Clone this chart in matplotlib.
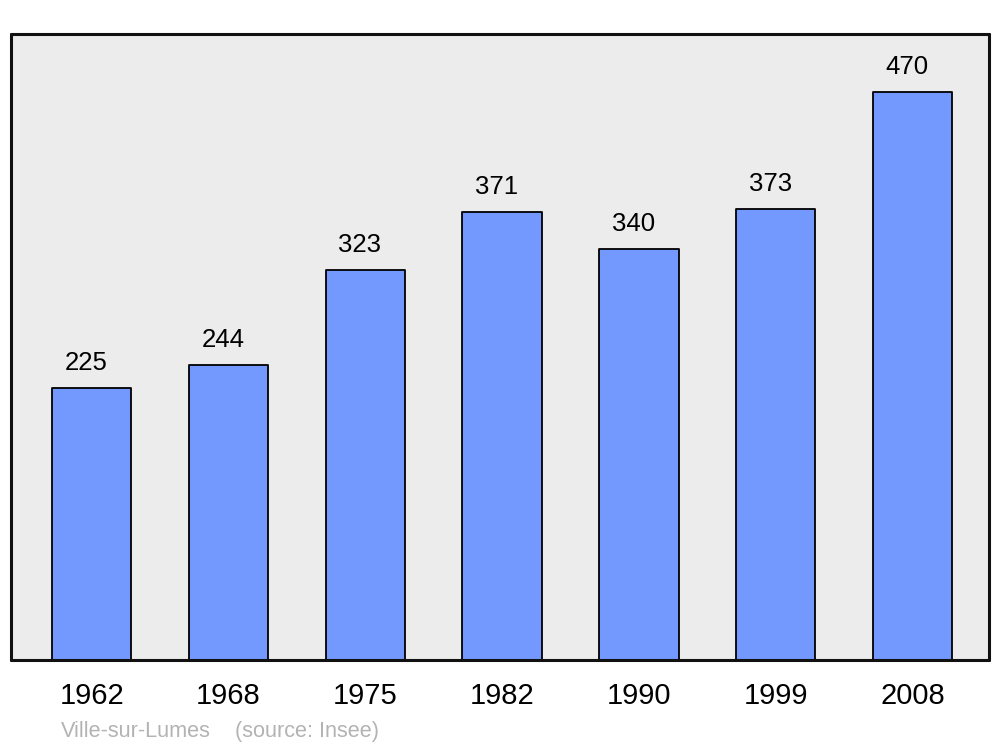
#!/usr/bin/env python3
"""Population bar chart for Ville-sur-Lumes (Insee census years)."""

import matplotlib

matplotlib.use("Agg")
import matplotlib.pyplot as plt

YEARS = ["1962", "1968", "1975", "1982", "1990", "1999", "2008"]
POPULATION = [225, 244, 323, 371, 340, 373, 470]
TOWN = "Ville-sur-Lumes"
SOURCE = "(source: Insee)"

plt.rcParams["font.family"] = ["Liberation Sans", "DejaVu Sans"]


def main() -> None:
    fig = plt.figure(figsize=(10, 7.47), dpi=100)
    ax = fig.add_axes([0.011, 0.1165, 0.978, 0.838])
    ax.set_facecolor("#ececec")

    x = list(range(len(YEARS)))
    bars = ax.bar(x, POPULATION, width=0.58, color="#7399ff", edgecolor="black",
                  linewidth=1.3, joinstyle="round", zorder=2)
    for bar, value in zip(bars, POPULATION):
        ax.annotate(str(value), (bar.get_x() + bar.get_width() / 2, value),
                    xytext=(-4, 13), textcoords="offset points", ha="center",
                    va="baseline", fontsize=18.5)

    ax.set_xlim(-0.59, 6.56)
    ax.set_ylim(0, 518)
    ax.set_xticks(x)
    ax.set_xticklabels(YEARS, fontsize=21)
    ax.tick_params(axis="x", length=0, pad=16)
    ax.set_yticks([])
    for spine in ax.spines.values():
        spine.set_linewidth(2.2)
        spine.set_color("#111111")
        spine.set_joinstyle("round")
        spine.set_capstyle("round")

    fig.text(0.061, 0.013, TOWN, fontsize=15.6, color="#b3b3b3", va="baseline")
    fig.text(0.235, 0.013, SOURCE, fontsize=15.6, color="#b3b3b3", va="baseline")

    fig.savefig("out.png", dpi=100)
    plt.close(fig)


if __name__ == "__main__":
    main()
